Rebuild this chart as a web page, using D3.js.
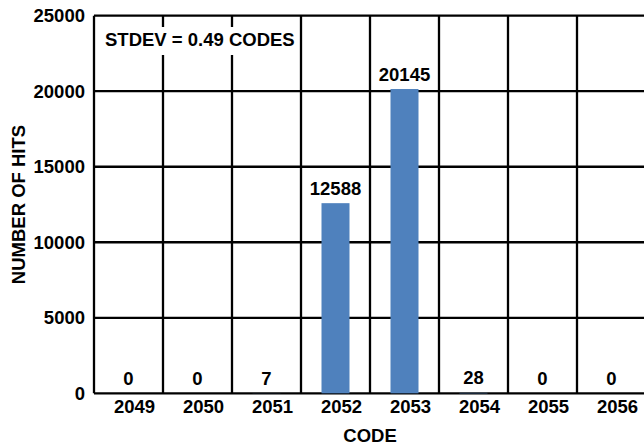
<!DOCTYPE html>
<html>
<head>
<meta charset="utf-8">
<script src="https://cdn.jsdelivr.net/npm/d3@7"></script>
<style>
  body { margin: 0; background: #fff; }
  text { font-family: Arial, "Liberation Sans", sans-serif; font-weight: bold; fill: #000; }
</style>
</head>
<body>
<script>
const codes = ['2049', '2050', '2051', '2052', '2053', '2054', '2055', '2056'];
const hits = [0, 0, 7, 12588, 20145, 28, 0, 0];
const yTicks = [0, 5000, 10000, 15000, 20000, 25000];
const note = 'STDEV = 0.49 CODES';

const W = 644;
const H = 447;
const margin = { top: 15.7, left: 94, bottom: 53.7 };
const plotRight = 646;
const bottom = H - margin.bottom;
const fs = '18.5px';

const svg = d3.select('body').append('svg')
  .attr('width', W)
  .attr('height', H);

const x = d3.scaleBand()
  .domain(codes)
  .range([margin.left, plotRight])
  .padding(0);

const y = d3.scaleLinear()
  .domain([0, 25000])
  .range([bottom, margin.top]);

const grid = svg.append('g')
  .attr('stroke', '#000')
  .attr('stroke-width', 2.3);

// horizontal grid lines
grid.selectAll('.hline')
  .data(yTicks)
  .enter().append('line')
  .attr('x1', margin.left)
  .attr('x2', plotRight)
  .attr('y1', d => y(d))
  .attr('y2', d => y(d));

// vertical band separators
grid.selectAll('.vline')
  .data(codes)
  .enter().append('line')
  .attr('x1', d => x(d))
  .attr('x2', d => x(d))
  .attr('y1', margin.top)
  .attr('y2', bottom);

const barW = 28;

svg.selectAll('.bar')
  .data(hits)
  .enter().append('rect')
  .attr('class', 'bar')
  .attr('x', (d, i) => x(codes[i]) + x.bandwidth() / 2 - barW / 2)
  .attr('width', barW)
  .attr('y', d => y(d))
  .attr('height', d => bottom - y(d))
  .attr('fill', '#4f81bd');

svg.selectAll('.val')
  .data(hits)
  .enter().append('text')
  .attr('class', 'val')
  .attr('x', (d, i) => x(codes[i]) + x.bandwidth() / 2)
  .attr('y', d => y(d) - 8.5)
  .attr('text-anchor', 'middle')
  .style('font-size', fs)
  .text(d => d);

// note with white background
svg.append('rect')
  .attr('x', 100)
  .attr('y', 27)
  .attr('width', 197)
  .attr('height', 28)
  .attr('fill', '#fff');

svg.append('text')
  .attr('x', 105)
  .attr('y', 45.7)
  .style('font-size', fs)
  .text(note);

const yAxis = svg.append('g')
  .attr('transform', `translate(${margin.left},0)`)
  .call(d3.axisLeft(y).tickValues(yTicks).tickSize(0).tickPadding(9).tickFormat(d3.format('d')));
yAxis.select('.domain').remove();
yAxis.selectAll('text')
  .style('font-size', fs)
  .style('font-family', 'Arial, "Liberation Sans", sans-serif')
  .style('font-weight', 'bold')
  .attr('fill', '#000');

const xAxis = svg.append('g')
  .attr('transform', `translate(0,${bottom})`)
  .call(d3.axisBottom(x).tickSize(0).tickPadding(7));
xAxis.select('.domain').remove();
xAxis.selectAll('text')
  .attr('dx', 6)
  .style('font-size', fs)
  .style('font-family', 'Arial, "Liberation Sans", sans-serif')
  .style('font-weight', 'bold')
  .attr('fill', '#000');

svg.append('text')
  .attr('x', (margin.left + plotRight) / 2)
  .attr('y', 441.7)
  .attr('text-anchor', 'middle')
  .style('font-size', fs)
  .text('CODE');

svg.append('text')
  .attr('transform', `translate(25,${(margin.top + bottom) / 2}) rotate(-90)`)
  .attr('text-anchor', 'middle')
  .style('font-size', fs)
  .text('NUMBER OF HITS');
</script>
</body>
</html>
